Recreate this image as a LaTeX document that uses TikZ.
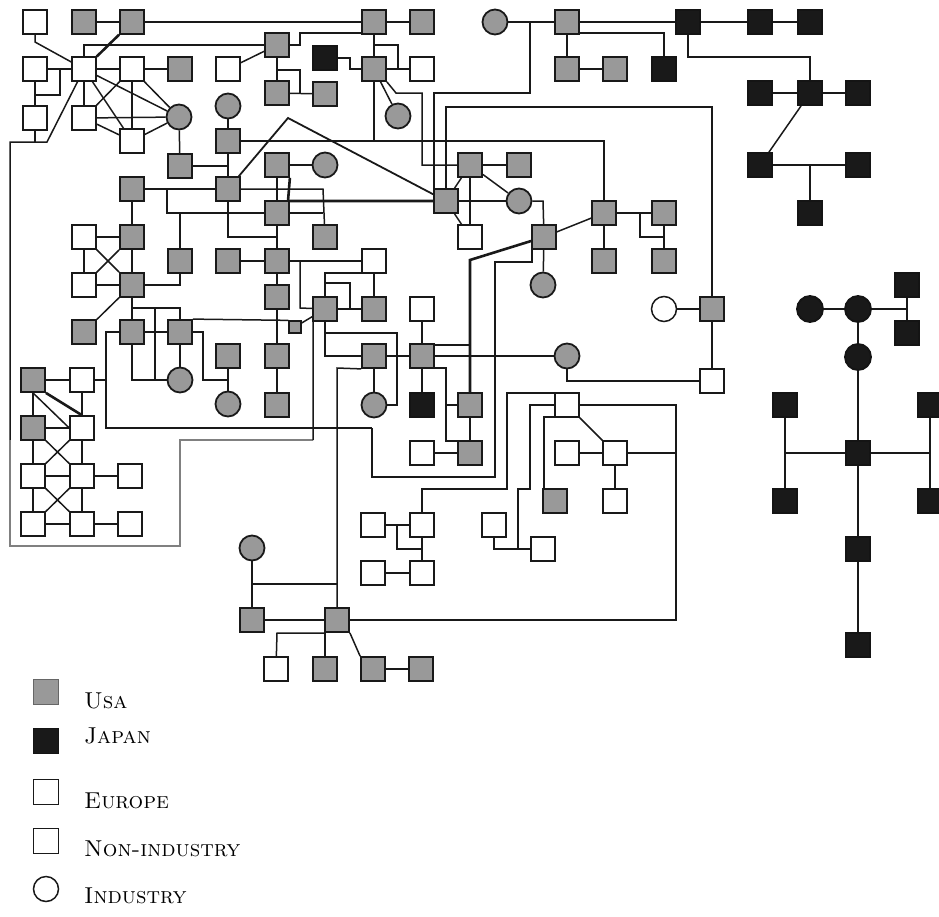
\documentclass[tikz,border=0pt]{standalone}
\pgfdeclarelayer{bg}
\pgfsetlayers{bg,main}
\begin{document}
\begin{tikzpicture}[x=1pt,y=-1pt]
\tikzset{
 base/.style={inner sep=0pt, minimum size=24pt, line width=1.8pt},
 usa/.style={base, rectangle, draw=black!90, fill=black!40},
 jp/.style={base, rectangle, draw=black!92, fill=black!90},
 eu/.style={base, rectangle, draw=black!90, fill=white, line width=1.5pt},
 ci/.style={base, circle, minimum size=25pt, draw=black!90, fill=black!40},
 jci/.style={base, circle, minimum size=26pt, draw=black!92, fill=black!90},
 oci/.style={base, circle, minimum size=25pt, draw=black!90, fill=white, line width=1.5pt},
 sus/.style={base, rectangle, minimum size=12pt, draw=black!90, fill=black!40, line width=1.3pt},
 ln/.style={line width=1.5pt, draw=black!90},
 tk/.style={line width=2.6pt, draw=black!90},
 gr/.style={line width=1.4pt, draw=black!50},
 lbl/.style={anchor=base west, inner sep=0pt, font=\fontsize{23}{28}\selectfont},
}
\useasboundingbox (0,0) rectangle (939,916);
% USA squares
\node[usa] (u1) at (84,22) {};
\node[usa] (u2) at (132,22) {};
\node[usa] (u3) at (180,69) {};
\node[usa] (u4) at (277,45) {};
\node[usa] (u5) at (277,93) {};
\node[usa] (u6) at (325,94) {};
\node[usa] (u7) at (374,22) {};
\node[usa] (u8) at (422,22) {};
\node[usa] (u9) at (374,69) {};
\node[usa] (u10) at (567,22) {};
\node[usa] (u11) at (567,69) {};
\node[usa] (u12) at (615,69) {};
\node[usa] (u13) at (228,141) {};
\node[usa] (u14) at (180,166) {};
\node[usa] (u15) at (132,189) {};
\node[usa] (u16) at (228,189) {};
\node[usa] (u17) at (277,165) {};
\node[usa] (u18) at (277,213) {};
\node[usa] (u19) at (132,237) {};
\node[usa] (u20) at (132,285) {};
\node[usa] (u21) at (84,332) {};
\node[usa] (u22) at (132,332) {};
\node[usa] (u23) at (180,332) {};
\node[usa] (u24) at (180,261) {};
\node[usa] (u25) at (228,261) {};
\node[usa] (u26) at (277,261) {};
\node[usa] (u27) at (277,297) {};
\node[usa] (u28) at (228,356) {};
\node[usa] (u29) at (277,356) {};
\node[usa] (u30) at (277,405) {};
\node[usa] (u31) at (325,237) {};
\node[usa] (u32) at (325,309) {};
\node[usa] (u33) at (374,309) {};
\node[usa] (u34) at (374,356) {};
\node[usa] (u35) at (422,356) {};
\node[usa] (u36) at (470,405) {};
\node[usa] (u37) at (470,453) {};
\node[usa] (u38) at (470,165) {};
\node[usa] (u39) at (519,165) {};
\node[usa] (u40) at (446,201) {};
\node[usa] (u41) at (544,237) {};
\node[usa] (u42) at (604,213) {};
\node[usa] (u43) at (664,213) {};
\node[usa] (u44) at (604,261) {};
\node[usa] (u45) at (664,261) {};
\node[usa] (u46) at (712,309) {};
\node[usa] (u47) at (33,380) {};
\node[usa] (u48) at (33,428) {};
\node[usa] (u49) at (555,501) {};
\node[usa] (u50) at (252,620) {};
\node[usa] (u51) at (337,620) {};
\node[usa] (u52) at (325,669) {};
\node[usa] (u53) at (373,669) {};
\node[usa] (u54) at (421,669) {};
\node[sus] (us) at (295,327) {};
% Japan
\node[jp] (j1) at (325,58) {};
\node[jp] (j2) at (664,69) {};
\node[jp] (j3) at (688,22) {};
\node[jp] (j4) at (760,22) {};
\node[jp] (j5) at (810,22) {};
\node[jp] (j6) at (760,93) {};
\node[jp] (j7) at (810,93) {};
\node[jp] (j8) at (858,93) {};
\node[jp] (j9) at (760,165) {};
\node[jp] (j10) at (858,165) {};
\node[jp] (j11) at (810,213) {};
\node[jp] (j12) at (422,405) {};
\node[jp] (j13) at (907,285) {};
\node[jp] (j14) at (907,333) {};
\node[jp] (j15) at (785,405) {};
\node[jp] (j16) at (930,405) {};
\node[jp] (j17) at (858,453) {};
\node[jp] (j18) at (785,501) {};
\node[jp] (j19) at (930,501) {};
\node[jp] (j20) at (858,549) {};
\node[jp] (j21) at (858,645) {};
\node[jci] (jc1) at (810,309) {};
\node[jci] (jc2) at (858,309) {};
\node[jci] (jc3) at (858,357) {};
% open squares
\node[eu] (e1) at (35,22) {};
\node[eu] (e2) at (35,69) {};
\node[eu] (e3) at (84,69) {};
\node[eu] (e4) at (132,69) {};
\node[eu] (e5) at (35,118) {};
\node[eu] (e6) at (84,118) {};
\node[eu] (e7) at (132,141) {};
\node[eu] (e8) at (228,69) {};
\node[eu] (e9) at (422,69) {};
\node[eu] (e10) at (84,237) {};
\node[eu] (e11) at (84,285) {};
\node[eu] (e12) at (82,380) {};
\node[eu] (e13) at (82,428) {};
\node[eu] (e14) at (33,476) {};
\node[eu] (e15) at (82,476) {};
\node[eu] (e16) at (130,476) {};
\node[eu] (e17) at (33,524) {};
\node[eu] (e18) at (82,524) {};
\node[eu] (e19) at (130,524) {};
\node[eu] (e20) at (374,261) {};
\node[eu] (e21) at (422,309) {};
\node[eu] (e22) at (470,237) {};
\node[eu] (e23) at (422,453) {};
\node[eu] (e24) at (567,405) {};
\node[eu] (e25) at (567,453) {};
\node[eu] (e26) at (615,453) {};
\node[eu] (e27) at (615,501) {};
\node[eu] (e28) at (712,381) {};
\node[eu] (e29) at (373,525) {};
\node[eu] (e30) at (422,525) {};
\node[eu] (e31) at (373,573) {};
\node[eu] (e32) at (422,573) {};
\node[eu] (e33) at (494,525) {};
\node[eu] (e34) at (543,549) {};
\node[eu] (e35) at (276,669) {};
% circles
\node[ci] (c1) at (179,117) {};
\node[ci] (c2) at (228,106) {};
\node[ci] (c3) at (325,165) {};
\node[ci] (c4) at (398,116) {};
\node[ci] (c5) at (495,22) {};
\node[ci] (c6) at (519,201) {};
\node[ci] (c7) at (543,285) {};
\node[ci] (c8) at (180,380) {};
\node[ci] (c9) at (228,404) {};
\node[ci] (c10) at (374,405) {};
\node[ci] (c11) at (567,356) {};
\node[ci] (c12) at (252,548) {};
\node[oci] (oc1) at (664,309) {};
% legend
\node[usa, draw=black!60, line width=1pt, minimum size=25pt] (lu) at (46,692) {};
\node[jp, minimum size=25pt] (lj) at (46,741) {};
\node[eu, minimum size=25pt] (le) at (46,792) {};
\node[eu, minimum size=25pt] (lnn) at (46,841) {};
\node[oci] (li) at (46,889) {};
\node[lbl] (tu) at (84,708) {\textsc{Usa}};
\node[lbl] (tj) at (84,743) {\textsc{Japan}};
\node[lbl] (te) at (84,808) {\textsc{Europe}};
\node[lbl] (tn) at (84,856) {\textsc{Non-industry}};
\node[lbl] (ti) at (84,903) {\textsc{Industry}};

\begin{pgfonlayer}{bg}
% top left
\draw[ln] (e1) -- (35,42) -- (e3);
\draw[ln] (u1) -- (u2);
\draw[tk] (u2) -- (e3);
\draw[ln] (u2) -- (u7);
\draw[ln] (e3) |- (u4);
\draw[ln] (e3) -- (e2);
\draw[ln] (60,69) -- (60,95) -- (35,95);
\draw[ln] (e2) -- (e5);
\draw[ln] (e3) -- (47,142) -- (10,142) -- (10,440);
\draw[gr] (10,440) -- (10,546) -- (180,546) -- (180,440) -- (313,440);
\draw[ln] (313,440) -- (313,308) -- (u32);
\draw[ln] (e5) -- (35,142);
\draw[ln] (e3) -- (e6);
\draw[ln] (e3) -- (e4);
\draw[ln] (e4) -- (u3);
\draw[ln] (e3) -- (c1);
\draw[ln] (e3) -- (e7);
\draw[ln] (e4) -- (e6);
\draw[ln] (e4) -- (e7);
\draw[ln] (e4) -- (c1);
\draw[ln] (e6) -- (c1);
\draw[ln] (e6) -- (e7);
\draw[ln] (e7) -- (c1);
\draw[ln] (c1) -- (u14);
\draw[ln] (u14) -- (228,166);
\draw[ln] (c2) -- (u13);
\draw[ln] (u13) -- (u16);
\draw[tk] (u13) -- (604,141) -- (u42);
\draw[ln] (e8) -- (u4);
\draw[ln] (u4) -- (u5);
\draw[ln] (277,70) -- (300,70) -- (300,93);
\draw[ln] (u5) -- (u6);
\draw[ln] (u4.east) -- (300,45) -- (300,33) -- (362,33);
\draw[ln] (j1) -- (350,58) -- (350,69) -- (u9);
\draw[ln] (u7) -- (u9);
\draw[ln] (u7) -- (u8);
\draw[ln] (374,45) -- (398,45) -- (398,69) -- (e9);
\draw[ln] (u9) -- (e9);
\draw[ln] (u9) -- (c4);
\draw[ln] (u9.south east) -- (396,93) -- (422,93) -- (422,165) -- (u38);
\draw[ln] (u9) -- (374,141);
\draw[ln] (c5) -- (u10);
\draw[ln] (530,22) -- (530,93) -- (434,93) -- (434,189);
\draw[ln] (u10) -- (j3);
\draw[ln] (579,33) -- (664,33) -- (j2);
\draw[ln] (u10) -- (u11);
\draw[ln] (u11) -- (u12);
% japan top
\draw[ln] (j3) -- (j4) -- (j5);
\draw[ln] (j3) -- (688,57) -- (810,57) -- (j7);
\draw[ln] (j6) -- (j7) -- (j8);
\draw[ln] (j7) -- (j9);
\draw[ln] (j9) -- (j10);
\draw[ln] (810,165) -- (j11);
\draw[ln] (u40) -- (446,107) -- (712,107) -- (u46);
% centre
\draw[ln] (u38) -- (u39);
\draw[ln] (u38) -- (u40);
\draw[ln] (u38) -- (c6);
\draw[ln] (u38) -- (e22);
\draw[ln] (u40) -- (e22);
\draw[tk] (u40) -- (c6);
\draw[ln] (c6) -- (543,201) -- (u41);
\draw[ln] (u41) -- (u42);
\draw[ln] (u42) -- (u43);
\draw[ln] (640,213) -- (640,237) -- (664,237);
\draw[ln] (u43) -- (u45);
\draw[ln] (u42) -- (u44);
\draw[ln] (u41) -- (c7);
\draw[ln, line width=1.8pt] (u16) -- (288,118) -- (u40);
\draw[tk] (u17.south east) -- (288,201) -- (u40);
\draw[ln] (u17) -- (c3);
\draw[ln] (u17) -- (u18);
\draw[ln] (u16) -- (323,189) -- (u31);
\draw[ln] (u18) -- (323,213);
\draw[tk] (u16) -- (228,237) -- (277,237);
\draw[ln] (u15) -- (u16);
\draw[ln] (167,189) -- (167,213) -- (u18);
\draw[ln] (180,213) -- (u24);
\draw[ln] (u15) -- (u19);
\draw[ln] (e10) -- (u19);
\draw[ln] (e10) -- (e11);
\draw[ln] (u19) -- (u20);
\draw[ln] (e10) -- (u20);
\draw[ln] (u19) -- (e11);
\draw[ln] (e11) -- (u20);
\draw[ln] (u20) -- (u21);
\draw[ln] (u20) -- (u22);
\draw[ln] (u20) -| (u24);
\draw[ln] (132,308) -| (u23);
\draw[ln] (155,308) -- (155,380);
\draw[ln] (u22) |- (c8);
\draw[ln] (u22) -- (u23);
\draw[ln] (u23) -- (c8);
\draw[ln] (u23) -- (203,332) -- (203,380) -- (228,380);
\draw[ln] (u28) -- (c9);
\draw[ln] (u23.north east) -- (us.north west);
\draw[ln] (us) -- (u32);
\draw[ln] (u25) -- (u26);
\draw[ln] (u26) -- (e20);
\draw[ln] (300,261) -- (300,308) -- (u32);
\draw[ln] (u26) -- (u27);
\draw[ln] (u27) -- (u29);
\draw[ln] (u29) -- (u30);
\draw[ln] (u18) -- (u26);
\draw[ln] (e20) -- (u33);
\draw[ln] (u32) -- (325,273) -- (362,273);
\draw[ln] (u32) -- (u33);
\draw[ln] (325,283) -- (350,283) -- (350,308);
\draw[ln] (u32) |- (u34);
\draw[ln] (325,333) -- (397,333) -- (397,405) -- (c10);
\draw[ln] (u34) -- (c10);
\draw[ln] (u34) -- (u35);
\draw[ln] (u34.south west) -- (337,368) -- (u51);
\draw[ln] (e21) -- (u35);
\draw[ln] (u35) -- (j12);
\draw[ln] (u35) -- (c11);
\draw[ln] (434,345) -- (470,345);
\draw[tk] (u36) -- (470,260) -- (u41);
\draw[ln] (434,368) -- (446,368) -- (446,441) -- (458,441);
\draw[ln] (446,405) -- (u36);
\draw[ln] (u36) -- (u37);
\draw[ln] (e23) -- (u37);
\draw[ln] (u22) -- (106,332) -- (106,428) -- (372,428);
\draw[tk] (372,428) -- (372,477) -- (495,477) -- (495,262) -- (532,262) -- (532,249);
\draw[ln] (e12) -- (106,380);
% lower right
\draw[ln] (c11) -- (567,381) -- (e28);
\draw[ln] (555,393) -- (507,393) -- (507,489) -- (422,489) -- (e30);
\draw[ln] (e24) -- (530,405) -- (530,489) -- (518,489) -- (518,549);
\draw[ln] (555,417) -- (544,417) -- (544,489);
\draw[ln] (e24) -- (e26);
\draw[ln] (e24) -- (676,405) -- (676,620) -- (u51);
\draw[ln] (e25) -- (e26);
\draw[ln] (e26) -- (676,453);
\draw[ln] (e26) -- (e27);
\draw[ln] (e29) -- (e30);
\draw[ln] (397,525) -- (397,549) -- (422,549);
\draw[ln] (e30) -- (e32);
\draw[ln] (e31) -- (e32);
\draw[ln] (e33) |- (e34);
% bottom
\draw[ln] (c12) -- (u50);
\draw[ln] (252,584) -- (337,584);
\draw[ln] (u50) -- (u51);
\draw[ln] (325,633) -- (277,633) -- (e35);
\draw[ln] (325,633) -- (u52);
\draw[ln] (u51.south east) -- (u53.north west);
\draw[ln] (u53) -- (u54);
\draw[ln] (u46) -- (e28);
\draw[ln] (oc1) -- (u46);
% japan right
\draw[ln] (jc1) -- (jc2) -- (907,309);
\draw[ln] (j13) -- (j14);
\draw[ln] (jc2) -- (jc3) -- (j17);
\draw[ln] (785,453) -- (930,453);
\draw[ln] (j15) -- (j18);
\draw[ln] (j16) -- (j19);
\draw[ln] (j17) -- (j20) -- (j21);
% lower left
\draw[ln] (u47) -- (e12);
\draw[tk] (u47.south east) -- (e13.north);
\draw[ln] (u47.south) -- (e13.west);
\draw[ln] (u47) -- (u48);
\draw[ln] (e12) -- (e13);
\draw[ln] (u48) -- (e13);
\draw[ln] (u48) -- (e14);
\draw[ln] (e13) -- (e15);
\draw[ln] (u48) -- (e15);
\draw[ln] (e13) -- (e14);
\draw[ln] (e14) -- (e15);
\draw[ln] (e15) -- (e16);
\draw[ln] (e14) -- (e17);
\draw[ln] (e15) -- (e18);
\draw[ln] (e14) -- (e18);
\draw[ln] (e15) -- (e17);
\draw[ln] (e17) -- (e18);
\draw[ln] (e18) -- (e19);
\end{pgfonlayer}
\end{tikzpicture}
\end{document}
